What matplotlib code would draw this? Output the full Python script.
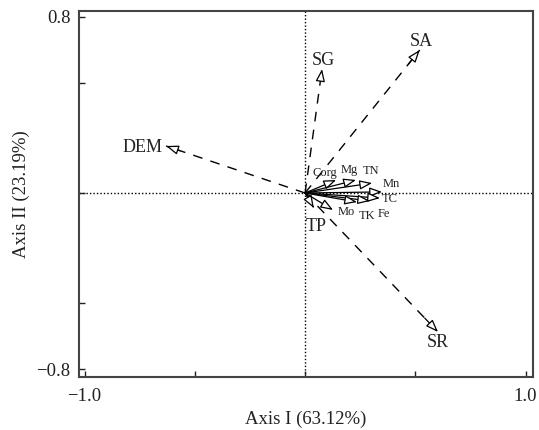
import matplotlib
matplotlib.use("Agg")
import matplotlib.pyplot as plt

plt.rcParams['font.family'] = ['Liberation Serif', 'DejaVu Serif']

# environmental variables (dashed arrows)
env_names = ['SG', 'SA', 'DEM', 'SR', 'TP']
env_x = [0.077, 0.52, -0.63, 0.603, 0.04]
env_y = [0.562, 0.648, 0.213, -0.63, -0.068]

# response variables (solid arrows)
var_names = ['Corg', 'Mg', 'TN', 'Mn', 'TC', 'Fe', 'TK', 'Mo']
var_x = [0.141, 0.231, 0.304, 0.349, 0.340, 0.295, 0.236, 0.127]
var_y = [0.059, 0.059, 0.045, 0.005, -0.023, -0.036, -0.041, -0.077]

x_ticks = [-1.0, -0.5, 0.0, 0.5, 1.0]
x_ticklabels = ['\u22121.0', '', '', '', '1.0']
y_ticks = [-0.8, -0.5, 0.0, 0.5, 0.8]
y_ticklabels = ['\u22120.8', '', '', '', '0.8']

# label offsets in pixels (dx, dy, ha)
env_off = {'SG': (1, 9, 'center'), 'SA': (2, 9, 'center'), 'DEM': (-4, -1, 'right'),
           'SR': (0, -11, 'center'), 'TP': (2, -18, 'center')}
var_off = {'Corg': (-11, 7), 'Mg': (-7, 10), 'TN': (-1, 12), 'Mn': (9, 8),
           'TC': (10, -1), 'Fe': (14, -13), 'TK': (10, -14), 'Mo': (13, -2)}

fig = plt.figure(figsize=(5.39, 4.30), dpi=100)
ax = fig.add_axes([0.1466, 0.1233, 0.8424, 0.8511])
ax.set_xlim(-1.025, 1.034)
ax.set_ylim(-0.834, 0.825)

ax.axhline(0, color='black', lw=1.0, ls=(0, (1, 1.5)), zorder=1)
ax.axvline(0, color='black', lw=1.0, ls=(0, (1, 1.5)), zorder=1)

head = '-|>,head_length=0.75,head_width=0.28'

for name, x, y in zip(env_names, env_x, env_y):
    ax.plot([0, x], [0, y], color='black', lw=1.0, ls=(0, (7, 6)), zorder=2)
    ax.annotate('', xy=(x, y), xytext=(0.9 * x, 0.9 * y),
                arrowprops=dict(arrowstyle=head, fc='white', ec='black', lw=0.9,
                                shrinkA=0, shrinkB=0), zorder=3)
    dx, dy, ha = env_off[name]
    ax.annotate(name, xy=(x, y), xytext=(dx, dy), textcoords='offset pixels',
                ha=ha, va='center', fontsize=13, color='#222222')

for name, x, y in zip(var_names, var_x, var_y):
    ax.annotate('', xy=(x, y), xytext=(0, 0),
                arrowprops=dict(arrowstyle=head, fc='white', ec='black', lw=0.9,
                                shrinkA=0, shrinkB=0), zorder=3)
    dx, dy = var_off[name]
    ax.annotate(name, xy=(x, y), xytext=(dx, dy), textcoords='offset pixels',
                ha='center', va='center', fontsize=9, color='#222222')

ax.set_xticks(x_ticks)
ax.set_xticklabels(x_ticklabels)
ax.set_yticks(y_ticks)
ax.set_yticklabels(y_ticklabels)
ax.tick_params(direction='in', length=4, width=1, labelsize=13.5, colors='#222222')
ax.tick_params(axis='x', pad=8)
ax.tick_params(axis='y', pad=6)
for s in ax.spines.values():
    s.set_color('#444444')
    s.set_linewidth(1.5)

ax.set_xlabel('Axis I (63.12%)', fontsize=13.5, color='#222222', labelpad=4)
ax.set_ylabel('Axis II (23.19%)', fontsize=13.5, color='#222222', labelpad=5)

fig.savefig('out.png', dpi=100)
